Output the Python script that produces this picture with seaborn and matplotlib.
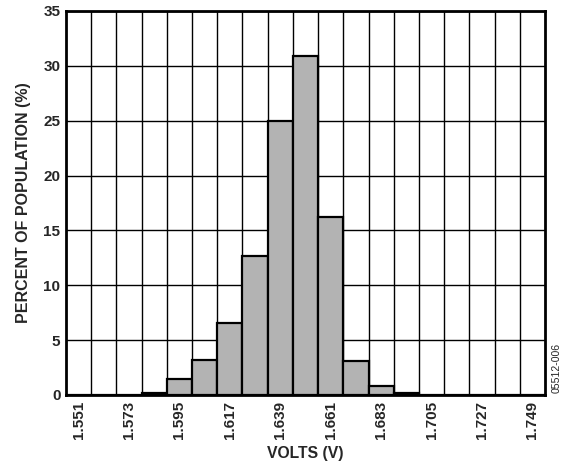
import numpy as np
import pandas as pd
import matplotlib
matplotlib.use("Agg")
import matplotlib.pyplot as plt
import seaborn as sns

# bin centres (V) and percent of population per bin
volts = ["1.551", "1.562", "1.573", "1.584", "1.595", "1.606", "1.617", "1.628",
         "1.639", "1.650", "1.661", "1.672", "1.683", "1.694", "1.705", "1.716",
         "1.727", "1.738", "1.749"]
percent = [0, 0, 0, 0.2, 1.5, 3.2, 6.6, 12.7,
           25.0, 30.9, 16.2, 3.1, 0.85, 0.2, 0, 0,
           0, 0, 0]
tick_labels = ["1.551", "1.573", "1.595", "1.617", "1.639",
               "1.661", "1.683", "1.705", "1.727", "1.749"]

sns.set_style("white")
plt.rcParams['font.family'] = ['Liberation Sans', 'DejaVu Sans']

df = pd.DataFrame({"volts": volts, "percent": percent})

fig = plt.figure(figsize=(5.65, 4.68), dpi=100)
ax = fig.add_axes([0.1168, 0.156, 0.8478, 0.8205])

sns.barplot(data=df, x="volts", y="percent", color="#b3b3b3", saturation=1,
            width=1.0, edgecolor="black", linewidth=1.6, ax=ax, zorder=3)

ax.set_xlim(-0.5, len(volts) - 0.5)
ax.set_ylim(0, 35)
ax.set_yticks(np.arange(0, 36, 5))
ax.set_xticks(np.arange(0, len(volts), 2))
ax.set_xticklabels(tick_labels, rotation=90, fontweight="bold", fontsize=11)
ax.set_yticklabels([str(v) for v in range(0, 36, 5)], fontweight="bold", fontsize=11)
ax.set_xticks(np.arange(0.5, len(volts) - 0.5, 1), minor=True)

ax.grid(False)
ax.grid(axis="x", which="minor", color="black", linewidth=1.0, zorder=0)
ax.grid(axis="y", which="major", color="black", linewidth=1.0, zorder=0)
ax.set_axisbelow(True)
ax.tick_params(which="both", length=0, pad=4)

for s in ax.spines.values():
    s.set_visible(True)
    s.set_color("black")
    s.set_linewidth(2)

ax.set_xlabel("VOLTS (V)", fontweight="bold", fontsize=11.3, labelpad=5)
ax.set_ylabel("PERCENT OF POPULATION (%)", fontweight="bold", fontsize=11.5, labelpad=9)

fig.text(0.985, 0.214, "05512-006", rotation=90, fontsize=7.6, ha="center", va="center")

fig.savefig("out.png", dpi=100)
